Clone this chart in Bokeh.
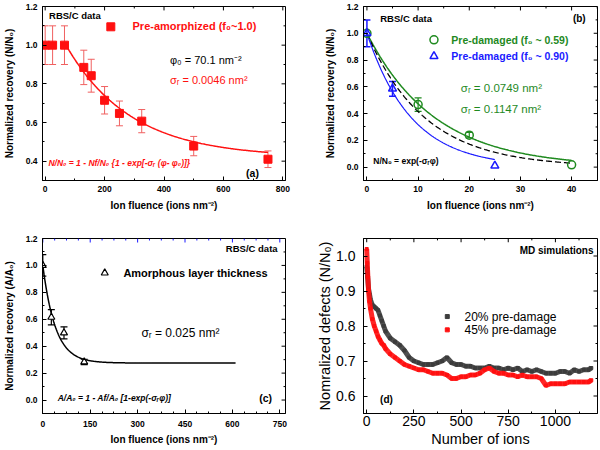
import numpy as np
from bokeh.plotting import figure
from bokeh.layouts import gridplot
from bokeh.models import Range1d, Label, Whisker, ColumnDataSource, TeeHead, FixedTicker, PrintfTickFormatter
from bokeh.embed import file_html
from bokeh.resources import INLINE

FONT = "Liberation Sans"

# ---------------- Panel (a) data ----------------
a_fluence = [0, 25, 65, 130, 155, 200, 250, 325, 500, 750]
a_recovery = [1.0, 1.0, 1.0, 0.885, 0.842, 0.715, 0.647, 0.607, 0.478, 0.41]
a_err = [0.1, 0.1, 0.1, 0.089, 0.085, 0.071, 0.064, 0.06, 0.05, 0.043]
a_phi0 = 70.1
a_sigma = 0.0046
a_nf = 0.58
a_fit_end = 750
a_xticks = [0, 200, 400, 600, 800]
a_yticks = [0.4, 0.6, 0.8, 1.0, 1.2]

# ---------------- Panel (b) data ----------------
b_green_fluence = [0, 10, 20, 40]
b_green_recovery = [1.0, 0.467, 0.239, 0.017]
b_green_err = [0.0, 0.05, 0.02, 0.0]
b_blue_fluence = [0, 5, 25]
b_blue_recovery = [1.0, 0.585, 0.01]
b_blue_err = [0.1, 0.055, 0.0]
b_sigma_green = 0.0749
b_sigma_blue = 0.1147
b_sigma_mean = 0.088
b_xticks = [0, 10, 20, 30, 40]
b_yticks = [0.0, 0.2, 0.4, 0.6, 0.8, 1.0, 1.2]

# ---------------- Panel (c) data ----------------
c_fluence = [0, 27, 67, 131]
c_recovery = [1.0, 0.615, 0.499, 0.283]
c_err = [0.08, 0.057, 0.045, 0.02]
c_sigma = 0.025
c_af = 0.725
c_fit_end = 610
c_xticks = [0, 150, 300, 450, 600, 750]
c_yticks = [0.0, 0.2, 0.4, 0.6, 0.8, 1.0, 1.2]

# ---------------- Panel (d) data ----------------
d_ions_20 = [0, 5, 10, 15, 20, 30, 40, 50, 60, 70, 80, 90, 100, 125, 150, 175, 200, 225, 250, 275,
             300, 325, 350, 375, 400, 425, 450, 475, 500, 525, 550, 575, 600, 625, 650, 675, 700,
             725, 750, 775, 800, 825, 850, 875, 900, 925, 950, 975, 1000, 1025, 1050, 1075, 1100,
             1125, 1150, 1175, 1190]
d_def_20 = [0.97, 0.94, 0.905, 0.89, 0.875, 0.86, 0.855, 0.85, 0.845, 0.83, 0.815, 0.80, 0.785,
            0.765, 0.755, 0.745, 0.73, 0.71, 0.70, 0.695, 0.69, 0.69, 0.69, 0.695, 0.70, 0.71,
            0.695, 0.69, 0.69, 0.685, 0.685, 0.68, 0.68, 0.68, 0.685, 0.68, 0.68, 0.675, 0.68,
            0.675, 0.68, 0.67, 0.675, 0.67, 0.675, 0.67, 0.665, 0.665, 0.665, 0.67, 0.67, 0.665,
            0.675, 0.67, 0.675, 0.675, 0.68]
d_ions_45 = [0, 3, 6, 10, 15, 20, 30, 40, 50, 60, 70, 80, 90, 100, 125, 150, 175, 200, 225, 250,
             275, 300, 325, 350, 375, 400, 425, 450, 475, 500, 525, 550, 575, 600, 625, 650, 675,
             700, 725, 750, 775, 800, 825, 850, 875, 900, 925, 950, 975, 1000, 1025, 1050, 1075,
             1100, 1125, 1150, 1175, 1190]
d_def_45 = [1.02, 0.98, 0.94, 0.90, 0.87, 0.85, 0.82, 0.80, 0.785, 0.77, 0.76, 0.75, 0.745, 0.735,
            0.72, 0.71, 0.70, 0.69, 0.685, 0.68, 0.675, 0.675, 0.67, 0.665, 0.665, 0.665, 0.66,
            0.65, 0.65, 0.655, 0.655, 0.66, 0.66, 0.665, 0.675, 0.68, 0.67, 0.665, 0.665, 0.66,
            0.66, 0.655, 0.66, 0.655, 0.655, 0.655, 0.65, 0.63, 0.635, 0.635, 0.635, 0.635, 0.64,
            0.64, 0.64, 0.64, 0.64, 0.645]
d_xticks = [0, 250, 500, 750, 1000]
d_yticks = [0.6, 0.7, 0.8, 0.9, 1.0]

RED = "#ff1010"
RED_ERR = "#f06060"
GREEN = "#1f8a1f"
BLUE = "#1a1aff"
GRAY = "#3c3c3c"


def minors(ticks, lo, hi, n):
    step = (ticks[1] - ticks[0]) / n
    out = []
    t = ticks[0] - step * n
    while t <= hi + 1e-9:
        if t >= lo - 1e-9 and all(abs(t - m) > 1e-9 for m in ticks):
            out.append(round(t, 6))
        t += step
    return out


def make_fig(xr, yr, borders, xticks, yticks, nminor_x, nminor_y, tick_fs, tick_bold, lab_fs,
             lab_bold, xlabel, ylabel, tick_std, label_std, top_color="black"):
    l, r, t, b = borders
    fw = 300 - l - r
    fh = 225 - t - b
    p = figure(width=300, height=225, x_range=Range1d(*xr), y_range=Range1d(*yr),
               output_backend="svg", toolbar_location=None,
               min_border_left=l, min_border_right=r, min_border_top=t, min_border_bottom=b)
    p.xgrid.visible = False
    p.ygrid.visible = False
    p.outline_line_color = "black"
    p.outline_line_width = 1
    p.background_fill_color = "white"
    p.border_fill_color = "white"
    xminor = minors(xticks, xr[0], xr[1], nminor_x)
    yminor = minors(yticks, yr[0], yr[1], nminor_y)
    xax = p.below[0]
    yax = p.left[0]
    xax.ticker = FixedTicker(ticks=xticks, minor_ticks=xminor)
    yax.ticker = FixedTicker(ticks=yticks, minor_ticks=yminor)
    yax.formatter = PrintfTickFormatter(format="%.1f")
    for ax in [xax, yax]:
        ax.major_tick_in = 4
        ax.major_tick_out = 0
        ax.minor_tick_in = 2
        ax.minor_tick_out = 0
        ax.axis_line_color = "black"
        ax.major_tick_line_color = "black"
        ax.minor_tick_line_color = "black"
        ax.major_label_text_font = FONT
        ax.major_label_text_font_size = tick_fs
        ax.major_label_text_font_style = "bold" if tick_bold else "normal"
        ax.major_label_text_color = "black"
        ax.axis_label_text_font = FONT
        ax.axis_label_text_font_size = lab_fs
        ax.axis_label_text_font_style = "bold" if lab_bold else "normal"
        ax.axis_label_text_color = "black"
    xax.axis_label = xlabel
    yax.axis_label = ylabel
    xax.major_label_standoff = tick_std[0]
    yax.major_label_standoff = tick_std[1]
    xax.axis_label_standoff = label_std[0]
    yax.axis_label_standoff = label_std[1]

    # mirrored tick marks on the top and right frame edges
    dy = (yr[1] - yr[0]) / fh
    dx = (xr[1] - xr[0]) / fw
    xt_in = [v for v in xticks if xr[0] <= v <= xr[1]]
    yt_in = [v for v in yticks if yr[0] <= v <= yr[1]]
    for vals, ln in ((xt_in, 4), (xminor, 2)):
        p.segment(x0=vals, y0=[yr[1]] * len(vals), x1=vals, y1=[yr[1] - ln * dy] * len(vals),
                  line_color=top_color, line_width=1)
    for vals, ln in ((yt_in, 4), (yminor, 2)):
        p.segment(x0=[xr[1]] * len(vals), y0=vals, x1=[xr[1] - ln * dx] * len(vals), y1=vals,
                  line_color="black", line_width=1)
    return p


def lab(p, x, y, text, size, color="black", style="normal", align="left"):
    p.add_layout(Label(x=x, y=y, text=text, text_font=FONT, text_font_size=size,
                       text_font_style=style, text_color=color, text_baseline="middle",
                       text_align=align))


def whiskers(p, xs, ys, errs, color, width=1.0, head=6):
    keep = [i for i, e in enumerate(errs) if e > 0]
    src = ColumnDataSource(dict(x=[xs[i] for i in keep],
                                lo=[ys[i] - errs[i] for i in keep],
                                hi=[ys[i] + errs[i] for i in keep]))
    w = Whisker(source=src, base="x", lower="lo", upper="hi", line_color=color, line_width=width,
                upper_head=TeeHead(size=head, line_color=color, line_width=width),
                lower_head=TeeHead(size=head, line_color=color, line_width=width))
    p.add_layout(w)


# ================= Panel (a) =================
pa = make_fig((-9, 809), (0.3, 1.2), (39, 15, 6, 42), a_xticks, a_yticks, 2, 2,
              "8.5px", True, "10px", True,
              "Ion fluence (ions nm⁻²)", "Normalized recovery (N/N₀)", (5, 5), (5, 8))
whiskers(pa, a_fluence, a_recovery, a_err, RED_ERR, 1.0, 7)
phi = np.linspace(a_phi0, a_fit_end, 200)
pa.line(phi, 1 - a_nf * (1 - np.exp(-a_sigma * (phi - a_phi0))), line_color=RED, line_width=1.5)
pa.scatter(a_fluence, a_recovery, marker="square", size=8, color=RED)
lab(pa, 13, 1.154, "RBS/C data", "9.5px", style="bold")
pa.scatter([221], [1.095], marker="square", size=8, color=RED)
lab(pa, 294, 1.098, "Pre-amorphized (f₀~1.0)", "11px", RED, "bold")
lab(pa, 420, 0.925, "φ₀ = 70.1 nm⁻²", "11px")
lab(pa, 420, 0.820, "σᵣ = 0.0046 nm²", "11px", RED)
lab(pa, 11, 0.391, "N/N₀ = 1 - Nf/N₀ {1 - exp[-σᵣ (φ- φ₀)]}", "8.5px", RED, "bold italic")
lab(pa, 698, 0.341, "(a)", "10.5px", style="bold", align="center")

# ================= Panel (b) =================
pb = make_fig((-0.67, 45.06), (-0.1, 1.2), (51, 3, 4, 45), b_xticks, b_yticks, 2, 2,
              "8.5px", True, "10px", True,
              "Ion fluence (ions nm⁻²)", "Normalized recovery (N/N₀)", (5, 5), (5, 8))
phb = np.linspace(0, 40, 200)
pb.line(phb, np.exp(-b_sigma_green * phb), line_color=GREEN, line_width=1.5)
pb.line(phb, np.exp(-b_sigma_mean * phb), line_color="black", line_width=1.3, line_dash="6 3")
phb2 = np.linspace(0, 25, 200)
pb.line(phb2, np.exp(-b_sigma_blue * phb2), line_color=BLUE, line_width=1.2)
whiskers(pb, b_green_fluence, b_green_recovery, b_green_err, GREEN, 1.2, 7)
whiskers(pb, b_blue_fluence, b_blue_recovery, b_blue_err, BLUE, 1.5, 7)
pb.scatter(b_green_fluence, b_green_recovery, marker="circle", size=8, fill_color=None,
           line_color=GREEN, line_width=1.5)
pb.scatter(b_blue_fluence, b_blue_recovery, marker="triangle", size=8, fill_color=None,
           line_color=BLUE, line_width=1.5)
lab(pb, 2.6, 1.114, "RBS/C data", "9.5px", style="bold")
lab(pb, 41.5, 1.114, "(b)", "10px", style="bold", align="center")
pb.scatter([13.1], [0.951], marker="circle", size=8, fill_color=None, line_color=GREEN, line_width=1.5)
lab(pb, 16.5, 0.951, "Pre-damaged (f₀ ~ 0.59)", "10.5px", GREEN, "bold")
pb.scatter([13.1], [0.828], marker="triangle", size=8, fill_color=None, line_color=BLUE, line_width=1.5)
lab(pb, 16.5, 0.828, "Pre-damaged (f₀ ~ 0.90)", "10.5px", BLUE, "bold")
lab(pb, 18.35, 0.589, "σᵣ = 0.0749 nm²", "11.5px", GREEN)
lab(pb, 18.35, 0.437, "σᵣ = 0.1147 nm²", "11.5px", GREEN)
lab(pb, 1.24, 0.048, "N/N₀ = exp(-σᵣφ)", "8.5px", style="bold")

# ================= Panel (c) =================
pc = make_fig((-1, 768), (-0.1, 1.2), (40, 14, 13, 37), c_xticks, c_yticks, 4, 2,
              "8.5px", True, "10px", True,
              "Ion fluence (ions nm⁻²)", "Normalized recovery (A/A₀)", (7, 5), (4, 8),
              top_color=BLUE)
phc = np.linspace(0, c_fit_end, 300)
pc.line(phc, 1 - c_af * (1 - np.exp(-c_sigma * phc)), line_color="black", line_width=1.5)
whiskers(pc, c_fluence, c_recovery, c_err, "black", 1.2, 7)
pc.scatter(c_fluence, c_recovery, marker="triangle", size=7, fill_color="white",
           line_color="black", line_width=1.2)
lab(pc, 743, 1.126, "RBS/C data", "9.5px", style="bold", align="right")
pc.scatter([196], [0.944], marker="triangle", size=7, fill_color="white", line_color="black", line_width=1.2)
lab(pc, 255, 0.944, "Amorphous layer thickness", "11px", style="bold")
lab(pc, 312, 0.500, "σᵣ = 0.025 nm²", "12px")
lab(pc, 47, 0.016, "A/A₀ = 1 - Af/A₀ [1-exp(-σᵣφ)]", "8.5px", style="bold italic")
lab(pc, 705, 0.016, "(c)", "10.5px", style="bold", align="center")

# ================= Panel (d) =================
pd_ = make_fig((-17, 1223), (0.55, 1.05), (63, 3, 2, 37), d_xticks, d_yticks, 2, 2,
               "14px", False, "14.5px", False,
               "Number of ions", "Nomralized defects (N/N₀)", (2, 8), (2, 0))
pd_.line(d_ions_20, d_def_20, line_color=GRAY, line_width=5, line_alpha=0.9)
pd_.scatter(d_ions_20, d_def_20, marker="square", size=3, color=GRAY)
pd_.line(d_ions_45, d_def_45, line_color=RED, line_width=5, line_alpha=0.9)
pd_.scatter(d_ions_45, d_def_45, marker="square", size=3, color=RED)
lab(pd_, 1202, 1.017, "MD simulations", "10px", style="bold", align="right")
pd_.scatter([427], [0.827], marker="square", size=4, color=GRAY)
lab(pd_, 518, 0.827, "20% pre-damage", "12px")
pd_.scatter([427], [0.789], marker="square", size=4, color=RED)
lab(pd_, 518, 0.789, "45% pre-damage", "12px")
lab(pd_, 71, 0.590, "(d)", "10px", style="bold")

grid = gridplot([[pa, pb], [pc, pd_]], toolbar_location=None)
open("out.html", "w").write(file_html(grid, INLINE))
